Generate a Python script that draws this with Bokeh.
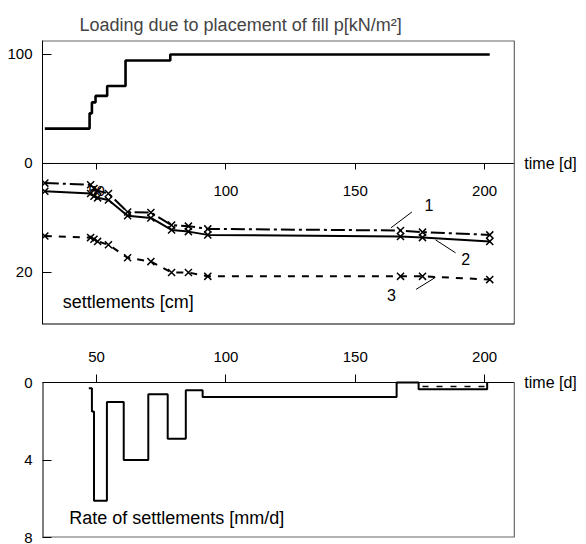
from bokeh.plotting import figure
from bokeh.models import Range1d, LinearAxis, FixedTicker, Label
from bokeh.layouts import column
from bokeh.embed import file_html
from bokeh.resources import INLINE

# ---------------- data ----------------
load_days = [30, 47.3, 48.2, 49.6, 54.1, 61.2, 78.5, 202]
load_kpa = [32, 46, 56, 62, 71, 94.5, 100, 100]

sett_days = [30, 47.7, 49, 50.4, 54.6, 62, 71, 79, 85.5, 93, 167.5, 176, 202]
sett_1 = [3.6, 3.9, 4.6, 5.0, 5.5, 8.9, 9.0, 11.3, 11.5, 12.0, 12.3, 12.6, 13.1]
sett_2 = [5.1, 5.5, 6.0, 6.3, 6.7, 9.6, 10.0, 12.2, 12.5, 13.1, 13.4, 13.6, 14.3]
sett_3 = [13.3, 13.6, 13.9, 14.3, 14.9, 17.3, 18.0, 20.0, 20.0, 20.7, 20.7, 20.7, 21.3]

rate_days = [47, 48.2, 49, 54, 60.5, 70, 77.5, 84.5, 91, 166, 174.5, 201]
rate_mm = [0.3, 1.5, 6.1, 1.0, 4.0, 0.6, 2.9, 0.4, 0.75, 0.0, 0.35, 0.0]
rate2_days = [176, 200]
rate2_mm = [0.2, 0.2]

time_ticks = [50, 100, 150, 200]
load_ticks = [0, 100]
sett_ticks = [20]
rate_ticks = [0, 4, 8]

# ---------------- styling constants ----------------
FONT = "Liberation Sans"
X_START, X_BORDER, X_FRAME_END = 29.1, 211.5, 239.4
LOAD_TOP, LOAD_BOTTOM = 112.8, -147.7
CM_PER_LOAD = 0.2  # 20 cm of settlement spans the same height as 100 kN/m2
RATE_MAX, RATE_TOP = 8, -1.91
BORDER = "#666666"

x_range = Range1d(X_START, X_FRAME_END)


def style_axis(ax):
    ax.axis_line_color = "black"
    ax.axis_line_width = 1
    ax.major_tick_line_color = "black"
    ax.minor_tick_line_color = None
    ax.major_label_text_font = FONT
    ax.major_label_text_font_size = "15px"
    ax.major_label_text_color = "black"


# ---------------- top panel: load + settlements ----------------
p1 = figure(width=586, height=342, frame_width=544, frame_height=284,
            x_range=x_range, y_range=Range1d(LOAD_BOTTOM, LOAD_TOP),
            x_axis_location=None, y_axis_location=None,
            toolbar_location=None, output_backend="svg",
            min_border_left=42, min_border_right=0, min_border_top=40,
            min_border_bottom=18,
            title="Loading due to placement of fill p[kN/m²]")
p1.extra_y_ranges = {"s": Range1d(start=-LOAD_BOTTOM * CM_PER_LOAD,
                                  end=-LOAD_TOP * CM_PER_LOAD)}
p1.grid.visible = False
p1.outline_line_color = None
p1.title.text_font = FONT
p1.title.text_font_size = "18px"
p1.title.text_font_style = "normal"
p1.title.align = "left"
p1.title.offset = 37
p1.title.standoff = 11

# left axis: load ticks above zero, settlement tick below zero (same pixel scale)
sett_tick_pos = [-v / CM_PER_LOAD for v in sett_ticks]
yax1 = LinearAxis(ticker=FixedTicker(ticks=load_ticks + sett_tick_pos))
yax1.major_label_overrides = {pos: str(v) for pos, v in zip(sett_tick_pos, sett_ticks)}
p1.add_layout(yax1, "left")

xax1 = LinearAxis(ticker=FixedTicker(ticks=time_ticks), fixed_location=0)
p1.add_layout(xax1, "below")

style_axis(yax1)
style_axis(xax1)
yax1.major_tick_in = 9
yax1.major_tick_out = 0
yax1.major_label_standoff = 10
xax1.axis_line_color = None
xax1.major_tick_in = 0
xax1.major_tick_out = 6
xax1.major_label_standoff = 17

# frame borders (zero line, top, right, bottom) ending at the right border
p1.segment(x0=[X_START, X_START, X_BORDER, X_START],
           y0=[0, LOAD_TOP, LOAD_BOTTOM, LOAD_BOTTOM],
           x1=[X_BORDER, X_BORDER, X_BORDER, X_BORDER],
           y1=[0, LOAD_TOP, LOAD_TOP, LOAD_BOTTOM],
           line_color=["black", BORDER, BORDER, "black"], line_width=[1, 2, 1.2, 2])

p1.step(load_days, load_kpa, mode="after", line_color="black", line_width=2.6)

p1.line(sett_days, sett_1, y_range_name="s", line_color="black", line_width=2,
        line_dash="14 4 3 4")
p1.line(sett_days, sett_2, y_range_name="s", line_color="black", line_width=2)
p1.line(sett_days, sett_3, y_range_name="s", line_color="black", line_width=2,
        line_dash="7 7")
for ser in (sett_1, sett_2, sett_3):
    p1.scatter(sett_days, ser, y_range_name="s", marker="x", size=10,
               line_color="black", line_width=1.5)

# curve number labels with leader lines
leaders = [((163.8, 11.8), (171.9, 8.9)), ((181.0, 14.0), (188.8, 16.4)),
           ((173.5, 23.1), (181.0, 20.9))]
p1.segment(x0=[a[0][0] for a in leaders], y0=[a[0][1] for a in leaders],
           x1=[a[1][0] for a in leaders], y1=[a[1][1] for a in leaders],
           y_range_name="s", line_color="black", line_width=1)
for txt, (lx, ly) in zip(["1", "2", "3"], [(178.5, 7.6), (192.7, 17.6), (164.0, 24.2)]):
    p1.add_layout(Label(x=lx, y=ly, y_range_name="s", text=txt, text_font=FONT,
                        text_font_size="16px", text_align="center",
                        text_baseline="middle", text_color="black"))

p1.add_layout(Label(x=36.9, y=25.5, y_range_name="s", text="settlements [cm]",
                    text_font=FONT, text_font_size="18px", text_baseline="middle",
                    text_color="black"))
p1.add_layout(Label(x=X_BORDER, y=0, x_offset=10, text="time [d]", text_font=FONT,
                    text_font_size="16px", text_baseline="middle",
                    text_color="black"))

# ---------------- bottom panel: rate of settlements ----------------
p2 = figure(width=586, height=202, frame_width=544, frame_height=192,
            x_range=x_range, y_range=Range1d(start=RATE_MAX, end=RATE_TOP),
            x_axis_location=None, y_axis_location=None,
            toolbar_location=None, output_backend="svg",
            min_border_left=42, min_border_right=0, min_border_top=3,
            min_border_bottom=7)
p2.grid.visible = False
p2.outline_line_color = None

xax2 = LinearAxis(ticker=FixedTicker(ticks=time_ticks), fixed_location=0)
p2.add_layout(xax2, "above")
yax2 = LinearAxis(ticker=FixedTicker(ticks=rate_ticks))
p2.add_layout(yax2, "left")
style_axis(xax2)
style_axis(yax2)
xax2.axis_line_color = None
xax2.major_tick_in = 0
xax2.major_tick_out = 8
xax2.major_label_standoff = 13
yax2.axis_line_color = None
yax2.major_tick_in = 9
yax2.major_tick_out = 0
yax2.major_label_standoff = 10

# left axis line, zero line, right border, bottom border
p2.segment(x0=[X_START, X_START, X_BORDER, X_START],
           y0=[0, 0, 0, RATE_MAX],
           x1=[X_START, X_BORDER, X_BORDER, X_BORDER],
           y1=[RATE_MAX, 0, RATE_MAX, RATE_MAX],
           line_color=["black", "black", BORDER, BORDER], line_width=[2, 1, 1.2, 2])

p2.step(rate_days, rate_mm, mode="after", line_color="black", line_width=2)
p2.line(rate2_days, rate2_mm, line_color="black", line_width=1.5, line_dash="6 8")

p2.add_layout(Label(x=39.4, y=7.0, text="Rate of settlements [mm/d]", text_font=FONT,
                    text_font_size="18px", text_baseline="middle",
                    text_color="black"))
p2.add_layout(Label(x=X_BORDER, y=0, x_offset=10, text="time [d]", text_font=FONT,
                    text_font_size="16px", text_baseline="middle",
                    text_color="black"))

layout = column(p1, p2, spacing=0)
open("out.html", "w").write(file_html(layout, INLINE))
